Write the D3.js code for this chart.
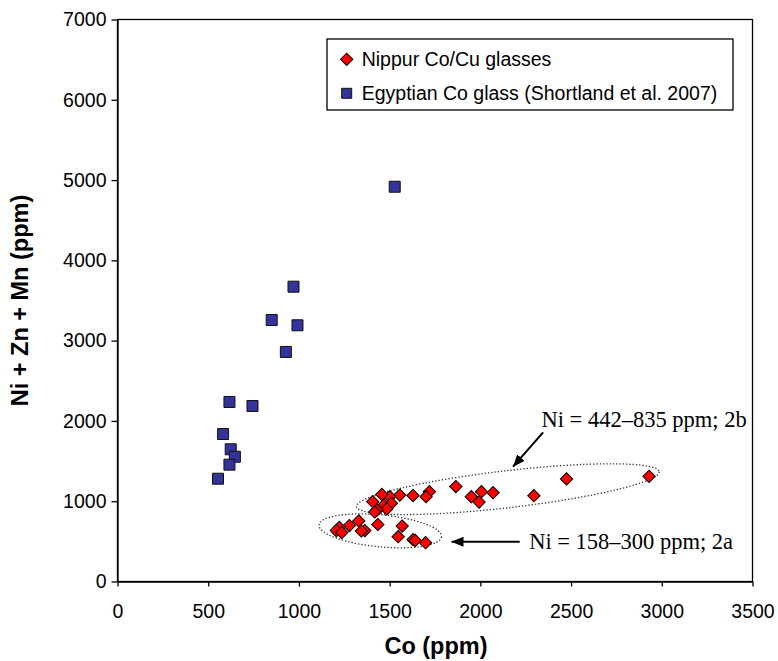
<!DOCTYPE html>
<html>
<head>
<meta charset="utf-8">
<title>Co vs Ni + Zn + Mn</title>
<script src="https://d3js.org/d3.v7.min.js"></script>
<style>
  body { margin: 0; background: #fff; }
  svg text { font-family: 'Liberation Sans', Arial, sans-serif; fill: #000; }
  .ann { font-family: 'Liberation Serif', 'Times New Roman', serif; font-size: 22.5px; }
</style>
</head>
<body>
<div id="chart"></div>
<script>
// Nippur Co/Cu glasses
var nippurCo  = [2930, 2475, 2295, 1865, 1950, 2006, 2070, 1993, 1719, 1701, 1629, 1556, 1501, 1457, 1407, 1469, 1510,
                 1484, 1431, 1418, 1330, 1278, 1223, 1206, 1236, 1363, 1344, 1435, 1569, 1547, 1629, 1641, 1698];
var nippurSum = [1310, 1277, 1069, 1183, 1056, 1118, 1106,  990, 1118, 1056, 1071, 1077, 1056, 1084,  994,  953,  974,
                  903,  891,  866,  754,  697,  673,  635,  610,  635,  629,  710,  691,  558,  521,  511,  483];

// Egyptian Co glass (Shortland et al. 2007)
var egyptCo  = [1528,  970,  850,  992,  928,  617,  744,  582,  624,  647,  617,  554];
var egyptSum = [4917, 3672, 3257, 3191, 2859, 2236, 2186, 1837, 1647, 1554, 1455, 1280];

var xTicks = [0, 500, 1000, 1500, 2000, 2500, 3000, 3500];
var yTicks = [0, 1000, 2000, 3000, 4000, 5000, 6000, 7000];
var seriesNames = ["Nippur Co/Cu glasses", "Egyptian Co glass (Shortland et al. 2007)"];

// annotation groups (ends of the dotted ellipses, in data units), arrows and labels
var groupLabels = ["Ni = 442\u2013835 ppm; 2b", "Ni = 158\u2013300 ppm; 2a"];
var groupEllipses = [[1317, 932, 2985, 1368], [1111, 704, 1786, 558]];
var groupArrows = [[2346, 1858, 2180, 1430], [2217, 496, 1841, 496]];
var groupLabelPos = [[2337, 1928], [2269, 405]];

var margin = {top: 19.5, right: 25.5, bottom: 79.5, left: 117.5},
    width = 778 - margin.left - margin.right,
    height = 661 - margin.top - margin.bottom;

var svg = d3.select("#chart").append("svg")
    .attr("width", 778)
    .attr("height", 661)
  .append("g")
    .attr("transform", "translate(" + margin.left + "," + margin.top + ")");

var x = d3.scaleLinear().domain([0, 3500]).range([0, width]);
var y = d3.scaleLinear().domain([0, 7000]).range([height, 0]);

// axes
var xAxis = svg.append("g")
    .attr("transform", "translate(0," + height + ")")
    .call(d3.axisBottom(x).tickValues(xTicks).tickFormat(d3.format("d"))
      .tickSize(5).tickPadding(18).tickSizeOuter(0));
var yAxis = svg.append("g")
    .call(d3.axisLeft(y).tickValues(yTicks).tickFormat(d3.format("d"))
      .tickSize(6).tickPadding(5).tickSizeOuter(0));
[xAxis, yAxis].forEach(function(a) {
  a.attr("font-size", null).attr("font-family", null);
  a.selectAll(".domain, .tick line").attr("stroke", "#000").attr("stroke-width", 1.3);
  a.selectAll(".tick text").attr("fill", "#000").style("font-size", "19.5px");
});

// frame
svg.append("rect")
    .attr("width", width).attr("height", height)
    .attr("fill", "none").attr("stroke", "#000").attr("stroke-width", 1.3);

// axis titles
svg.append("text")
    .attr("x", x(1750) + 1).attr("y", height + 72)
    .attr("text-anchor", "middle")
    .style("font-size", "23.5px").style("font-weight", "bold")
    .text("Co (ppm)");
svg.append("text")
    .attr("transform", "translate(" + (28 - margin.left) + "," + y(3500) + ") rotate(-90)")
    .attr("text-anchor", "middle")
    .style("font-size", "23.5px").style("font-weight", "bold")
    .text("Ni + Zn + Mn (ppm)");

// dotted ellipses
groupEllipses.forEach(function(e, i) {
  var x1 = x(e[0]), y1 = y(e[1]), x2 = x(e[2]), y2 = y(e[3]);
  var rx = Math.hypot(x2 - x1, y2 - y1) / 2;
  var ang = Math.atan2(y2 - y1, x2 - x1) * 180 / Math.PI;
  svg.append("ellipse")
      .attr("transform", "translate(" + ((x1 + x2) / 2) + "," + ((y1 + y2) / 2) + ") rotate(" + ang + ")")
      .attr("rx", rx).attr("ry", i === 0 ? 18.5 : 16)
      .attr("fill", "none").attr("stroke", "#333").attr("stroke-width", 1.3)
      .attr("stroke-dasharray", "1.3,2");
});

// arrows
svg.append("defs").append("marker")
    .attr("id", "head").attr("viewBox", "0 0 12 10")
    .attr("refX", 12).attr("refY", 5)
    .attr("markerWidth", 12).attr("markerHeight", 10)
    .attr("markerUnits", "userSpaceOnUse")
    .attr("orient", "auto")
  .append("path").attr("d", "M0,0L12,5L0,10Z").attr("fill", "#000");

svg.selectAll(".arrow")
  .data(groupArrows)
  .enter().append("line")
    .attr("class", "arrow")
    .attr("x1", function(d) { return x(d[0]); })
    .attr("y1", function(d) { return y(d[1]); })
    .attr("x2", function(d) { return x(d[2]); })
    .attr("y2", function(d) { return y(d[3]); })
    .attr("stroke", "#000").attr("stroke-width", 2)
    .attr("marker-end", "url(#head)");

svg.selectAll(".ann")
  .data(groupLabels)
  .enter().append("text")
    .attr("class", "ann")
    .attr("x", function(d, i) { return x(groupLabelPos[i][0]); })
    .attr("y", function(d, i) { return y(groupLabelPos[i][1]); })
    .text(function(d) { return d; });

// points
var diamond = d3.symbol().type(d3.symbolSquare).size(76);
var square = d3.symbol().type(d3.symbolSquare).size(121);

svg.selectAll(".eg")
  .data(egyptCo)
  .enter().append("path")
    .attr("class", "eg")
    .attr("d", square)
    .attr("transform", function(d, i) { return "translate(" + x(d) + "," + y(egyptSum[i]) + ")"; })
    .attr("fill", "#333399").attr("stroke", "#111").attr("stroke-width", 1);

svg.selectAll(".nip")
  .data(nippurCo)
  .enter().append("path")
    .attr("class", "nip")
    .attr("d", diamond)
    .attr("transform", function(d, i) { return "translate(" + x(d) + "," + y(nippurSum[i]) + ") rotate(45)"; })
    .attr("fill", "#ff0000").attr("stroke", "#000").attr("stroke-width", 1);

// legend
var lg = svg.append("g").attr("transform", "translate(" + (327 - margin.left) + "," + (39 - margin.top) + ")");
lg.append("rect")
    .attr("width", 406).attr("height", 71)
    .attr("fill", "#fff").attr("stroke", "#000").attr("stroke-width", 1.3);
lg.append("path").attr("d", diamond)
    .attr("transform", "translate(19.7,20.3) rotate(45)")
    .attr("fill", "#ff0000").attr("stroke", "#000").attr("stroke-width", 1);
lg.append("path").attr("d", d3.symbol().type(d3.symbolSquare).size(100))
    .attr("transform", "translate(19.7,54.3)")
    .attr("fill", "#333399").attr("stroke", "#111").attr("stroke-width", 1);
lg.selectAll(".lt")
  .data(seriesNames)
  .enter().append("text")
    .attr("class", "lt")
    .attr("x", 34.7)
    .attr("y", function(d, i) { return 26.5 + i * 34; })
    .style("font-size", "19.5px")
    .text(function(d) { return d; });
</script>
</body>
</html>
